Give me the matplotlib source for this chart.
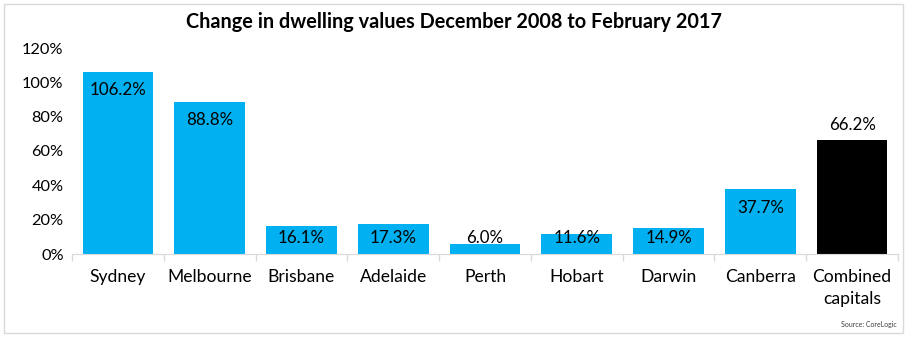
import numpy as np
import matplotlib.pyplot as plt
from matplotlib.patches import Rectangle

cities = ["Sydney", "Melbourne", "Brisbane", "Adelaide", "Perth",
          "Hobart", "Darwin", "Canberra", "Combined\ncapitals"]
change = [106.2, 88.8, 16.1, 17.3, 6.0, 11.6, 14.9, 37.7, 66.2]
y_ticks = [0, 20, 40, 60, 80, 100, 120]

BLUE = "#00B0F0"
FONT = ["Lato", "DejaVu Sans"]

fig = plt.figure(figsize=(9.08, 3.40), dpi=100)
ax = fig.add_axes([72 / 908, 1 - 254 / 340, 826 / 908, 206 / 340])

x = np.arange(len(cities))
colors = [BLUE] * (len(cities) - 1) + ["black"]
ax.bar(x, change, width=0.77, color=colors, zorder=2)

# labels sit inside the top of the city bars, above the combined bar
for i, v in enumerate(change):
    if i == len(change) - 1:
        ax.text(i, v + 4.5, f"{v:.1f}%", ha="center", va="bottom",
                fontsize=12.2, family=FONT)
    else:
        ax.text(i, max(v - 10.8, 9.3), f"{v:.1f}%", ha="center", va="center",
                fontsize=12.2, family=FONT)

ax.set_xlim(-0.5, len(cities) - 0.5)
ax.set_ylim(0, 120)
ax.set_yticks(y_ticks)
ax.set_yticklabels([f"{t}%" for t in y_ticks], fontsize=11.8, family=FONT)
ax.set_xticks(x)
ax.set_xticklabels(cities, fontsize=12.6, family=FONT, linespacing=1.45)
ax.tick_params(axis="x", length=0, pad=11)
ax.tick_params(axis="y", length=0, pad=6)

# category separators on the base line
ax.set_xticks(np.arange(len(cities) + 1) - 0.5, minor=True)
ax.tick_params(axis="x", which="minor", length=5, color="#d9d9d9", width=1)

for s in ["top", "right", "left"]:
    ax.spines[s].set_visible(False)
ax.spines["bottom"].set_color("#d9d9d9")

fig.text(454 / 908, 1 - 22 / 340, "Change in dwelling values December 2008 to February 2017",
         ha="center", va="center", fontsize=14.3, fontweight="bold", family=FONT)
fig.text(897 / 908, 1 - 324 / 340, "Source: CoreLogic", ha="right", va="center",
         fontsize=5, color="#404040", family=FONT)

fig.add_artist(Rectangle((4 / 908, 1 - 333 / 340), 899 / 908, 329 / 340,
                         transform=fig.transFigure, fill=False,
                         edgecolor="#d9d9d9", linewidth=1))

fig.savefig("out.png", dpi=100)
